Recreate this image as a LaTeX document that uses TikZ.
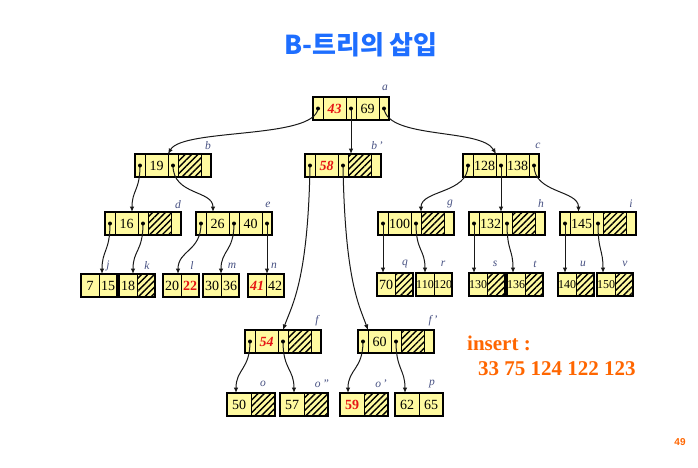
\documentclass[tikz,border=0pt]{standalone}
\usepackage{fontspec}
\setmainfont{Liberation Serif}
\newfontfamily\kr{Noto Sans CJK KR}
\newfontfamily\pgnum{Liberation Sans}
\usetikzlibrary{arrows.meta,patterns.meta}
\definecolor{cellY}{RGB}{255,250,160}
\definecolor{titleblue}{RGB}{30,110,255}
\definecolor{orng}{RGB}{255,102,0}
\definecolor{lblc}{RGB}{70,80,130}
\definecolor{keyred}{RGB}{230,20,20}
\tikzset{
  cell/.style={draw=black, line width=0.7pt, fill=cellY, minimum height=23pt,
    inner sep=0pt, outer sep=0pt, anchor=north west, font=\fontsize{14}{14}\selectfont},
  hatch/.style={preaction={fill=cellY}, pattern={Lines[angle=45,distance=4.5pt,line width=1.4pt]}},
  nohatch/.style={},
  edge/.style={draw=black!90, line width=1pt, -{Latex[length=5.5pt,width=4.5pt]}},
  lbl/.style={font=\fontsize{11.5}{11.5}\selectfont\itshape, text=lblc, inner sep=0pt},
  outer/.style={draw=black, line width=1.1pt}
}
\newcommand\redi[1]{\textcolor{keyred}{\bfseries\itshape #1}}
\newcommand\redb[1]{\textcolor{keyred}{\bfseries #1}}
\newcommand\sm[1]{{\fontsize{12}{12}\selectfont #1}}
% B-tree node: name, left, top, key1, key2, key2 style
\newcommand\btn[6]{%
  \node[cell,minimum width=10pt] (#1-p1) at (#2,#3) {};
  \node[cell,minimum width=23pt] (#1-k1) at (#1-p1.north east) {#4};
  \node[cell,minimum width=10pt] (#1-p2) at (#1-k1.north east) {};
  \node[cell,minimum width=23pt,#6] (#1-k2) at (#1-p2.north east) {#5};
  \node[cell,minimum width=10pt] (#1-p3) at (#1-k2.north east) {};
  \draw[outer] (#1-p1.north west) rectangle (#1-p3.south east);
}
% leaf: name, left, top, cell width, key1, key2, key2 style
\newcommand\lf[7]{%
  \node[cell,minimum width=#4pt] (#1-k1) at (#2,#3) {#5};
  \node[cell,minimum width=#4pt,#7] (#1-k2) at (#1-k1.north east) {#6};
  \draw[outer] (#1-k1.north west) rectangle (#1-k2.south east);
}
\begin{document}
\begin{tikzpicture}[x=1pt,y=-1pt]
\fill[white] (0,0) rectangle (698,467);
\useasboundingbox (0,0) rectangle (698,467);

\node[font=\kr\bfseries\fontsize{26}{26}\selectfont, text=titleblue] (title) at (361,45) {B-트리의 삽입};

% internal nodes
\btn{a}{313}{97}{\redi{43}}{69}{nohatch}
\btn{b}{135}{154}{19}{}{hatch}
\btn{bb}{305}{154}{\redi{58}}{}{hatch}
\btn{c}{463}{154}{128}{138}{nohatch}
\btn{d}{105}{212}{16}{}{hatch}
\btn{e}{196}{212}{26}{40}{nohatch}
\btn{g}{378}{212}{100}{}{hatch}
\btn{h}{469}{212}{132}{}{hatch}
\btn{i}{560}{212}{145}{}{hatch}
\btn{f}{245}{330}{\redi{54}}{}{hatch}
\btn{ff}{358}{330}{60}{}{hatch}

% leaves
\lf{j}{81}{274}{18}{7}{15}{nohatch}
\lf{k}{119}{274}{18}{18}{}{hatch}
\lf{l}{163}{274}{18}{20}{\redb{22}}{nohatch}
\lf{m}{203}{274}{18}{30}{36}{nohatch}
\lf{n}{248}{274}{18}{\redi{41}}{42}{nohatch}
\lf{q}{377}{273}{18}{70}{}{hatch}
\lf{r}{416}{273}{18}{\sm{110}}{\sm{120}}{nohatch}
\lf{s}{469}{273}{18}{\sm{130}}{}{hatch}
\lf{t}{507}{273}{18}{\sm{136}}{}{hatch}
\lf{u}{558}{273}{18}{\sm{140}}{}{hatch}
\lf{v}{597}{273}{18}{\sm{150}}{}{hatch}
\lf{o}{227}{393}{24}{50}{}{hatch}
\lf{oo}{280}{393}{24}{57}{}{hatch}
\lf{o1}{340}{393}{24}{\redb{59}}{}{hatch}
\lf{p}{395}{393}{24}{62}{65}{nohatch}

% labels
\node[lbl] (la) at (385,88) {a};
\node[lbl] (lb) at (208,146) {b};
\node[lbl] (lbb) at (377,146) {b\,'};
\node[lbl] (lc) at (538,146) {c};
\node[lbl] (ld) at (178,205) {d};
\node[lbl] (le) at (268,205) {e};
\node[lbl] (lg) at (450,204) {g};
\node[lbl] (lh) at (541,204) {h};
\node[lbl] (li) at (631,204) {i};
\node[lbl] (lj) at (108,266) {j};
\node[lbl] (lk) at (147,266) {k};
\node[lbl] (ll) at (192,266) {l};
\node[lbl] (lm) at (232,266) {m};
\node[lbl] (ln) at (274,266) {n};
\node[lbl] (lq) at (405,264) {q};
\node[lbl] (lr) at (443,264) {r};
\node[lbl] (ls) at (495,264) {s};
\node[lbl] (lt) at (535,264) {t};
\node[lbl] (lu) at (583,264) {u};
\node[lbl] (lv) at (625,264) {v};
\node[lbl] (lf) at (317,321) {f};
\node[lbl] (lff) at (433,321) {f\,'};
\node[lbl] (lo) at (263,384) {o};
\node[lbl] (loo) at (322,384) {o\,''};
\node[lbl] (lo1) at (381,384) {o\,'};
\node[lbl] (lp) at (432,384) {p};

% edges
\draw[edge] (a-p1.center) .. controls +(-4,31) and +(15,-26) .. (b-k1.north east);
\draw[edge] (a-p2.center) -- (a-p2.center |- bb-k2.north);
\draw[edge] (a-p3.center) .. controls +(4,31) and +(-15,-26) .. (c-k1.north east);
\draw[edge] (b-p1.center) .. controls +(0,25) and +(0,-22) .. ([xshift=-6pt]d-k1.north east);
\draw[edge] (b-p2.center) .. controls +(0,30) and +(0,-22) .. ([xshift=7pt]e-k1.north west);
\draw[edge] (c-p1.center) .. controls +(0,28) and +(0,-22) .. (g-k2.north west);
\draw[edge] (c-p2.center) -- (c-p2.center |- h-k1.north);
\draw[edge] (c-p3.center) .. controls +(0,28) and +(0,-22) .. ([xshift=-3pt]i-k1.north);
\draw[edge] (d-p1.center) .. controls +(0,28) and +(0,-24) .. ([xshift=3pt]j-k2.north west);
\draw[edge] (d-p2.center) .. controls +(0,28) and +(0,-24) .. ([xshift=-4pt]k-k2.north west);
\draw[edge] (e-p1.center) .. controls +(0,28) and +(0,-24) .. ([xshift=-3pt]l-k2.north west);
\draw[edge] (e-p2.center) .. controls +(0,28) and +(0,-24) .. (m-k2.north west);
\draw[edge] (e-p3.center) -- (e-p3.center |- n-k2.north);
\draw[edge] (g-p1.center) -- (g-p1.center |- q-k1.north);
\draw[edge] (g-p2.center) .. controls +(0,28) and +(0,-24) .. (r-k1.north);
\draw[edge] (h-p1.center) -- (h-p1.center |- s-k1.north);
\draw[edge] (h-p2.center) .. controls +(0,28) and +(0,-24) .. ([xshift=-3pt]t-k1.north);
\draw[edge] (i-p1.center) -- (i-p1.center |- u-k1.north);
\draw[edge] (i-p2.center) .. controls +(0,28) and +(0,-24) .. ([xshift=-3pt]v-k1.north);
\draw[edge] (bb-p1.center) .. controls +(-2,115) and +(9,-25) .. (f-p2.north);
\draw[edge] (bb-p2.center) .. controls +(2,115) and +(-9,-25) .. (ff-k1.north west);
\draw[edge] (f-p1.center) .. controls +(0,28) and +(0,-24) .. ([xshift=-3pt]o-k1.north);
\draw[edge] (f-p2.center) .. controls +(0,28) and +(0,-24) .. ([xshift=2pt]oo-k1.north);
\draw[edge] (ff-p1.center) .. controls +(0,28) and +(0,-24) .. ([xshift=-4pt]o1-k1.north);
\draw[edge] (ff-p2.center) .. controls +(0,28) and +(0,-24) .. ([xshift=-2pt]p-k1.north);

% pointer dots
\foreach \q in {a-p1,a-p2,a-p3,b-p1,b-p2,bb-p1,bb-p2,c-p1,c-p2,c-p3,d-p1,d-p2,e-p1,e-p2,e-p3,g-p1,g-p2,h-p1,h-p2,i-p1,i-p2,f-p1,f-p2,ff-p1,ff-p2}
  \fill (\q.center) circle (2pt);

% insert text
\node[anchor=base west, inner sep=0pt, font=\bfseries\fontsize{21}{21}\selectfont, text=orng] (ins1) at (467,350) {insert :};
\node[anchor=base west, inner sep=0pt, font=\bfseries\fontsize{21}{21}\selectfont, text=orng] (ins2) at (478,375) {33 75 124 122 123};

\node[font=\pgnum\bfseries\fontsize{10}{10}\selectfont, text=orng] (pg) at (680,442) {49};
\end{tikzpicture}
\end{document}
